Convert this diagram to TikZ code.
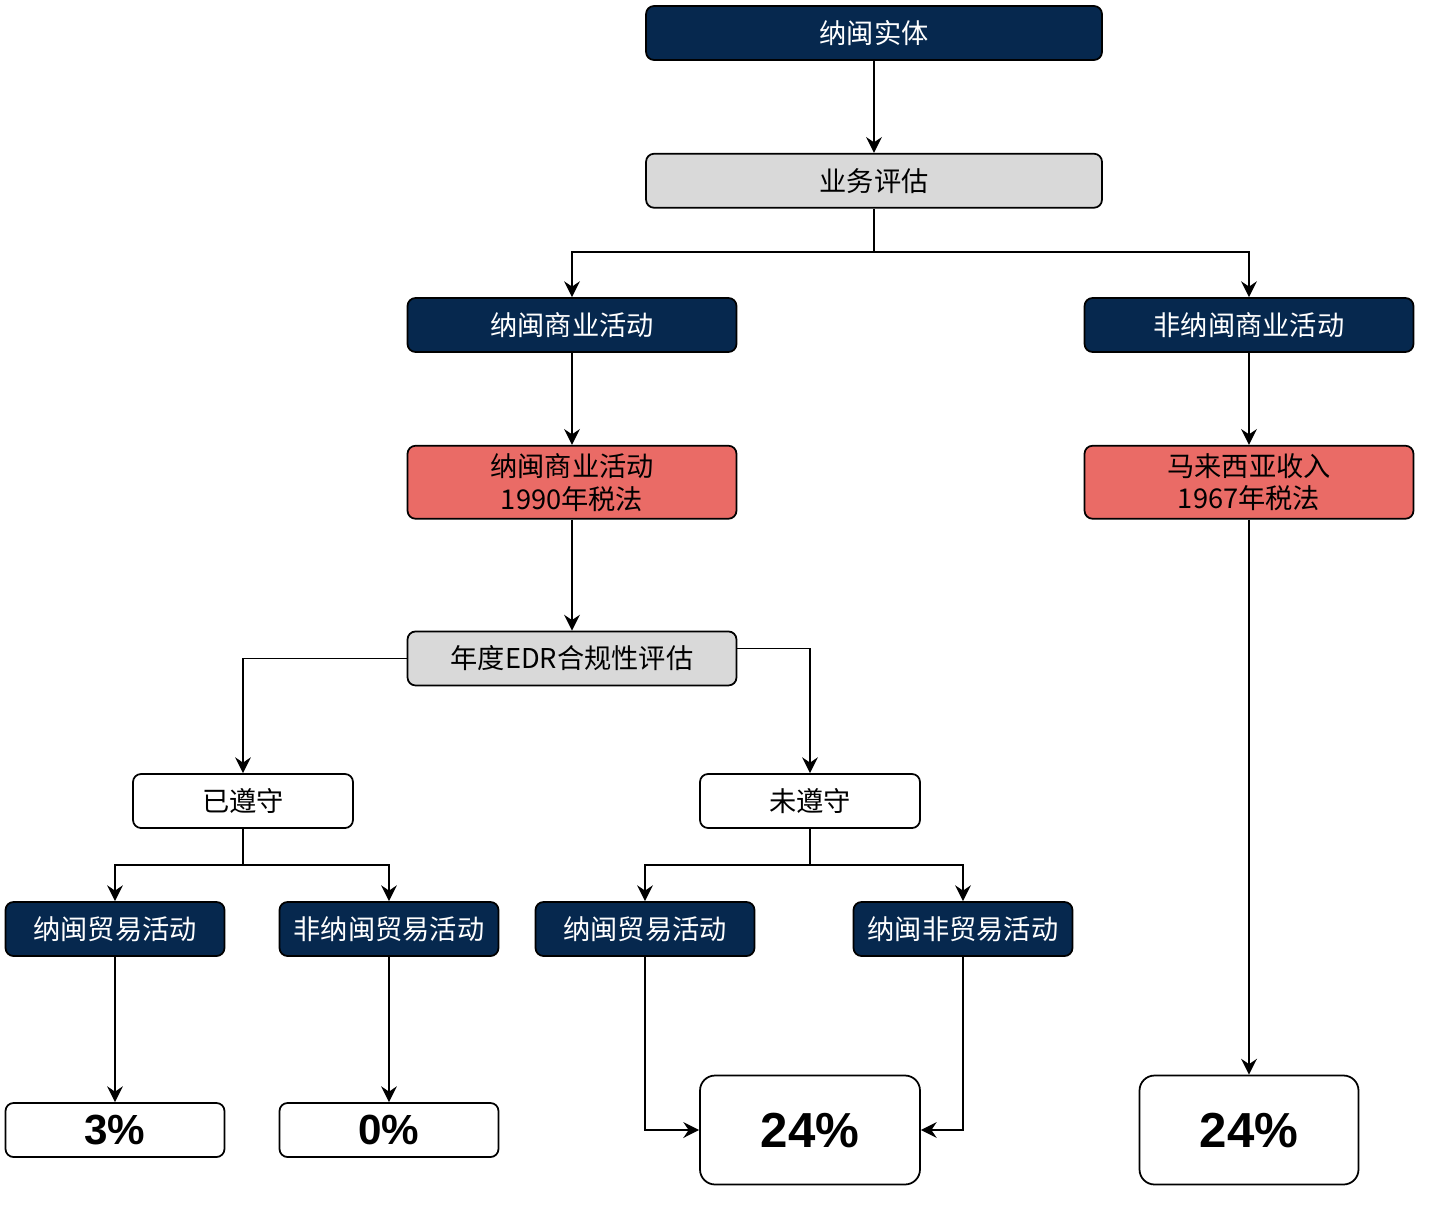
\documentclass[tikz,border=0pt]{standalone}
\usepackage{fontspec}
\setmainfont{Liberation Sans}
\newfontfamily\cjk{Noto Sans CJK SC}
\usetikzlibrary{positioning}
\usetikzlibrary{arrows.meta}
\definecolor{navy}{RGB}{6,40,78}
\definecolor{salmon}{RGB}{234,107,102}
\definecolor{boxgray}{RGB}{217,217,217}
\tikzset{
  box/.style={draw=black, line width=1pt, rounded corners=0.16cm, inner sep=0pt,
    minimum height=1.08cm, align=center, font=\cjk\fontsize{15.5}{18.7}\selectfont},
  navybox/.style={box, fill=navy, text=white},
  graybox/.style={box, fill=boxgray},
  redbox/.style={box, fill=salmon, minimum height=1.46cm},
  whitebox/.style={box, fill=white},
  ratebox/.style={box, fill=white, font=\bfseries\fontsize{24}{28}\selectfont},
  arr/.style={-{Stealth[length=9pt,width=9pt,inset=3pt]}, line width=0.9pt},
}
\begin{document}
\begin{tikzpicture}[x=0.02cm,y=-0.02cm]
    \useasboundingbox (0,0) rectangle (1440,1211);
    \node[navybox, minimum width=9.12cm] (entity) at (874,33) {纳闽实体};
    \node[graybox, minimum width=9.12cm, below=1.84cm of entity] (review) {业务评估};
    \node[navybox, minimum width=6.58cm] (lba) at (572,325) {纳闽商业活动};
    \node[navybox, minimum width=6.58cm] (nlba) at (1249,325) {非纳闽商业活动};
    \node[redbox, minimum width=6.58cm, below=1.84cm of lba] (lbata) {纳闽商业活动\\1990年税法};
    \node[redbox, minimum width=6.58cm, below=1.84cm of nlba] (mita) {马来西亚收入\\1967年税法};
    \node[graybox, minimum width=6.58cm, below=2.22cm of lbata] (edr) {年度EDR合规性评估};
    \node[whitebox, minimum width=4.4cm] (comp) at (243,801) {已遵守};
    \node[whitebox, minimum width=4.4cm] (ncomp) at (810,801) {未遵守};
    \node[navybox, minimum width=4.38cm] (lt1) at (115,929) {纳闽贸易活动};
    \node[navybox, minimum width=4.38cm] (nlt1) at (389,929) {非纳闽贸易活动};
    \node[navybox, minimum width=4.38cm] (lt2) at (645,929) {纳闽贸易活动};
    \node[navybox, minimum width=4.38cm] (lnt2) at (963,929) {纳闽非贸易活动};
    \node[ratebox, minimum width=4.38cm] (r3) at (115,1130) {3\%};
    \node[ratebox, minimum width=4.38cm] (r0) at (389,1130) {0\%};
    \node[ratebox, minimum width=4.4cm, minimum height=2.18cm, rounded corners=0.3cm,
      font=\bfseries\fontsize{28}{32}\selectfont] (r24a) at (810,1130) {24\%};
    \node[ratebox, minimum width=4.38cm, minimum height=2.18cm, rounded corners=0.3cm,
      font=\bfseries\fontsize{28}{32}\selectfont] (r24b) at (1249,1130) {24\%};
    \coordinate (split1) at (874,252);
    \coordinate (split2) at (243,865);
    \coordinate (split3) at (810,865);
    \draw[arr] (entity) -- (review);
    \draw[line width=0.9pt] (review) -- (split1);
    \draw[arr] (split1) -| (lba);
    \draw[arr] (split1) -| (nlba);
    \draw[arr] (lba) -- (lbata);
    \draw[arr] (nlba) -- (mita);
    \draw[arr] (lbata) -- (edr);
    \draw[arr] (mita) -- (r24b);
    \draw[arr] (edr.west) -| (comp);
    \draw[arr] ([yshift=0.2cm]edr.east) -| (ncomp);
    \draw[line width=0.9pt] (comp) -- (split2);
    \draw[arr] (split2) -| (lt1);
    \draw[arr] (split2) -| (nlt1);
    \draw[line width=0.9pt] (ncomp) -- (split3);
    \draw[arr] (split3) -| (lt2);
    \draw[arr] (split3) -| (lnt2);
    \draw[arr] (lt1) -- (r3);
    \draw[arr] (nlt1) -- (r0);
    \draw[arr] (lt2) |- (r24a);
    \draw[arr] (lnt2) |- (r24a);
\end{tikzpicture}
\end{document}
